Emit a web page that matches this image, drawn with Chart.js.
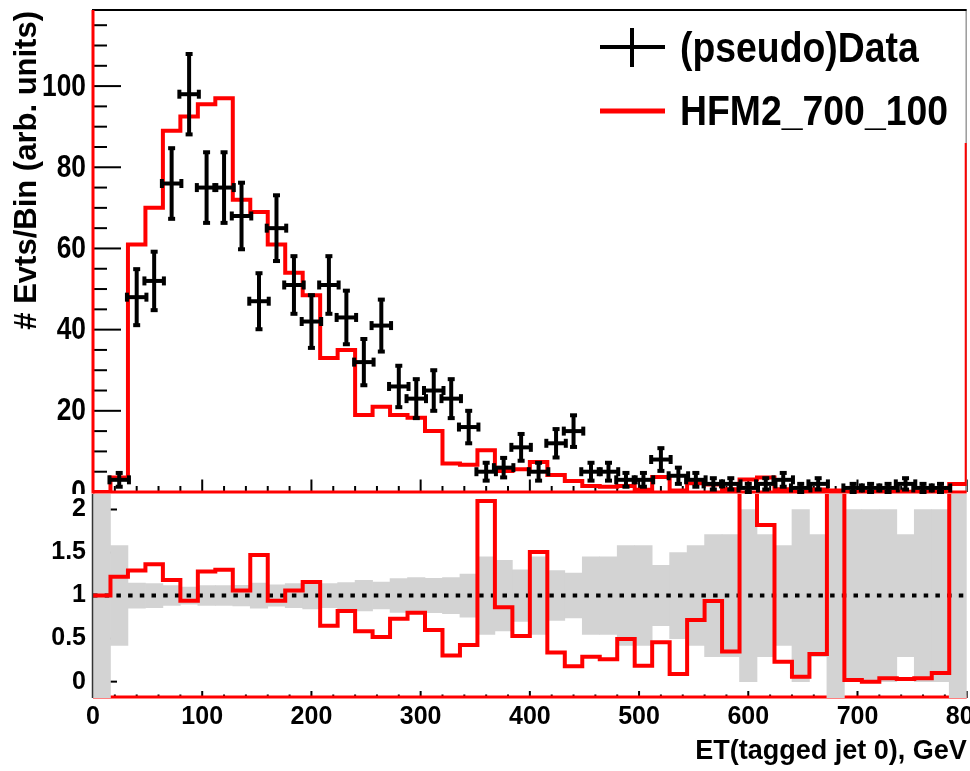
<!DOCTYPE html>
<html>
<head>
<meta charset="utf-8">
<script src="https://cdn.jsdelivr.net/npm/chart.js@4.4.1/dist/chart.umd.min.js"></script>
<style>
  html, body { margin: 0; padding: 0; background: #fff; }
  #wrap { position: relative; width: 970px; height: 771px; overflow: hidden; background: #fff; }
  #mainCanvas { position: absolute; left: 0; top: 0; }
  #ratioCanvas { position: absolute; left: 0; top: 494px; background: #fff; }
</style>
</head>
<body>
<div id="wrap">
  <canvas id="mainCanvas" width="970" height="496"></canvas>
  <canvas id="ratioCanvas" width="970" height="277"></canvas>
</div>
<script>
// ---- binning: 50 bins of 16 GeV between 0 and 800 GeV (bin centres) ----
const binWidth = 16;
const binCenters = [
  8, 24, 40, 56, 72, 88, 104, 120, 136, 152,
  168, 184, 200, 216, 232, 248, 264, 280, 296, 312,
  328, 344, 360, 376, 392, 408, 424, 440, 456, 472,
  488, 504, 520, 536, 552, 568, 584, 600, 616, 632,
  648, 664, 680, 696, 712, 728, 744, 760, 776, 792
];

// ---- (pseudo)data: events per bin and their errors ----
const pseudoData = [
  0, 3, 48, 52, 76, 98, 75, 75, 68, 47,
  65, 51, 42, 51, 43, 32, 41, 26, 23, 25,
  23, 16, 5, 6, 11, 5, 12, 15, 5, 5,
  3, 3, 8, 4, 3, 2, 2, 1, 2, 3,
  1, 2, 0, 1, 1, 1, 2, 1, 1, 0
];
const dataErr = [
  null, 1.7, 6.9, 7.2, 8.7, 9.9, 8.7, 8.7, 8.2, 6.9,
  8.1, 7.1, 6.5, 7.1, 6.6, 5.7, 6.4, 5.1, 4.8, 5.0,
  4.8, 4.0, 2.2, 2.4, 3.3, 2.2, 3.5, 3.9, 2.2, 2.2,
  1.7, 1.7, 2.8, 2.0, 1.7, 1.4, 1.4, 1.0, 1.4, 1.7,
  1.0, 1.4, null, 1.0, 1.0, 1.0, 1.4, 1.0, 1.0, null
];

// ---- signal model HFM2_700_100 (arb. units per bin) ----
const mcPred = [
  0, 3.6, 61, 70, 89, 92.5, 95.5, 97, 72, 69,
  61, 54, 48.5, 33, 35, 19, 21, 19, 18.3, 15,
  7, 6.7, 10.3, 5.2, 5.6, 7.4, 4.2, 2.7, 1.45, 1.3,
  1.5, 0.56, 3.7, 0.36, 2.15, 1.87, 0.7, 3.1, 3.6, 0.7,
  0.06, 0.64, 0.4, 0.02, 0, 0.04, 0.06, 0.04, 0.1, 2.0
];
const mcOverflow = 86;

// ---- ratio panel: model / data, and relative data uncertainty ----
// bins without data sit above the axis range (3.0)
const ratio = [
  1.0, 1.22, 1.29, 1.365, 1.18, 0.94, 1.28, 1.30, 1.06, 1.47,
  0.94, 1.06, 1.157, 0.65, 0.82, 0.585, 0.52, 0.73, 0.80, 0.60,
  0.305, 0.425, 2.10, 0.865, 0.53, 1.505, 0.34, 0.18, 0.29, 0.26,
  0.495, 0.186, 0.457, 0.09, 0.716, 0.936, 0.35, 3.1, 1.82, 0.23,
  0.058, 0.32, 3.0, 0.02, 0.0, 0.04, 0.03, 0.04, 0.10, 3.0
];
// half-width of the grey band around 1 (null: no data, band spans the panel)
const ratioBand = [
  null, 0.58, 0.145, 0.14, 0.115, 0.10, 0.115, 0.115, 0.12, 0.146,
  0.124, 0.14, 0.154, 0.14, 0.152, 0.177, 0.156, 0.196, 0.21, 0.20,
  0.21, 0.25, 0.45, 0.41, 0.30, 0.45, 0.29, 0.26, 0.45, 0.45,
  0.58, 0.58, 0.35, 0.5, 0.58, 0.71, 0.71, 1.0, 0.71, 0.58,
  1.0, 0.71, null, 1.0, 1.0, 1.0, 0.71, 1.0, 1.0, null
];
const ratioRef = 1;

// ---- axis ticks ----
const xTicks = [0, 100, 200, 300, 400, 500, 600, 700, 800];
const topYTicks = [0, 20, 40, 60, 80, 100];
const ratioTicks = [0, 0.5, 1, 1.5, 2];
const xRange = [0, 800];
const topYRange = [0, 118.5];
const ratioRange = [-0.19, 2.18];

const FONT = "'Liberation Sans', Arial, Helvetica, sans-serif";
const RED = '#ff0000';
const TOP_TEXT_SQUEEZE = 0.85;   // upper pad text is drawn horizontally condensed

// ---- derived chart data ----
const half = binWidth / 2;
const dataPoints = binCenters.map((x, i) => ({
  x: x, y: pseudoData[i] > 0 ? pseudoData[i] : null, err: dataErr[i]
}));
// step outline: one point per lower bin edge, then the upper edge and the overflow
const mcSteps = binCenters.map((x, i) => ({ x: x - half, y: mcPred[i] }));
mcSteps.push({ x: xRange[1], y: mcPred[mcPred.length - 1] });
mcSteps.push({ x: xRange[1], y: mcOverflow });

const ratioSteps = binCenters.map((x, i) => ({ x: x - half, y: ratio[i] }));
ratioSteps.push({ x: xRange[1], y: ratio[ratio.length - 1] });

const bandBars = binCenters.map((x, i) => ({
  x: x,
  y: ratioBand[i] === null ? [ratioRange[0], ratioRange[1]]
                           : [ratioRef - ratioBand[i], ratioRef + ratioBand[i]]
}));
const unityLine = [{ x: xRange[0], y: ratioRef }, { x: xRange[1], y: ratioRef }];

// ---- helpers ----
function seg(ctx, x1, y1, x2, y2) {
  ctx.beginPath(); ctx.moveTo(x1, y1); ctx.lineTo(x2, y2); ctx.stroke();
}
function fixedWidth(w) {
  return s => { s.width = w; s.paddingTop = 0; s.paddingBottom = 0; };
}
function fixedHeight(h) {
  return s => { s.height = h; s.paddingLeft = 0; s.paddingRight = 0; };
}
function useTicks(values) {
  return s => { s.ticks = values.map(v => ({ value: v })); };
}

// inward tick marks in the ROOT style
function tickMarksPlugin(spec) {
  return {
    id: 'tickMarks',
    beforeDatasetsDraw(chart) {
      const { ctx, chartArea: a, scales: { x, y } } = chart;
      ctx.save();
      ctx.strokeStyle = '#000';
      ctx.lineWidth = 2;
      for (let v = xRange[0]; v <= xRange[1]; v += spec.xMinorStep) {
        const px = x.getPixelForValue(v);
        const len = (v % 100 === 0) ? spec.xMajor : spec.xMinor;
        seg(ctx, px, a.bottom, px, a.bottom - len);
      }
      if (spec.yMinorStep) {
        for (let v = 0; v <= spec.yMax; v += spec.yMinorStep) {
          const py = y.getPixelForValue(v);
          const len = spec.yTicks.includes(v) ? spec.yMajor : spec.yMinor;
          seg(ctx, a.left, py, a.left + len, py);
        }
      } else {
        spec.yTicks.forEach(v => {
          const py = y.getPixelForValue(v);
          seg(ctx, a.left, py, a.left + spec.yMajor, py);
        });
      }
      ctx.restore();
    }
  };
}

// condensed tick labels of the upper pad, placed from the y scale
const condensedYLabels = {
  id: 'condensedYLabels',
  afterDraw(chart) {
    const { ctx, scales: { y }, chartArea: a } = chart;
    ctx.save();
    ctx.fillStyle = '#000';
    ctx.font = 'bold 31px ' + FONT;
    ctx.textAlign = 'right';
    ctx.textBaseline = 'middle';
    y.ticks.forEach(t => {
      ctx.save();
      ctx.translate(a.left - 7, y.getPixelForValue(t.value) + 1);
      ctx.scale(TOP_TEXT_SQUEEZE, 1);
      ctx.fillText(String(t.value), 0, 0);
      ctx.restore();
    });
    ctx.restore();
  }
};

const mainFrame = {
  id: 'mainFrame',
  beforeDatasetsDraw(chart) {
    const { ctx, chartArea: a } = chart;
    ctx.save();
    ctx.strokeStyle = '#000'; ctx.lineWidth = 2;
    seg(ctx, a.left - 1, a.top - 1, a.right, a.top - 1);
    ctx.strokeStyle = '#9a9a9a'; ctx.lineWidth = 1.5;
    seg(ctx, a.right - 0.5, a.top, a.right - 0.5, a.bottom);
    ctx.strokeStyle = RED; ctx.lineWidth = 3;
    seg(ctx, a.left, a.top - 1, a.left, a.bottom + 1.5);
    seg(ctx, a.left, a.bottom, a.right, a.bottom);
    ctx.restore();
  }
};

const ratioFrameBottom = {
  id: 'ratioFrameBottom',
  beforeDatasetsDraw(chart) {
    const { ctx, chartArea: a } = chart;
    ctx.save();
    ctx.strokeStyle = RED; ctx.lineWidth = 3;
    seg(ctx, a.left, a.bottom - 1, a.right, a.bottom - 1);
    ctx.restore();
  },
  afterDatasetsDraw(chart) {
    const { ctx, chartArea: a } = chart;
    ctx.save();
    ctx.strokeStyle = '#333'; ctx.lineWidth = 1.5;
    seg(ctx, a.left - 0.5, a.top, a.left - 0.5, a.bottom);
    ctx.restore();
  }
};

// data points with horizontal bin-width bars and vertical error bars
const dataCrosses = {
  id: 'dataCrosses',
  afterDatasetsDraw(chart) {
    const { ctx, scales: { x, y } } = chart;
    const meta = chart.getDatasetMeta(0);
    const raw = chart.data.datasets[0].data;
    ctx.save();
    ctx.strokeStyle = '#000';
    ctx.lineWidth = 4;
    ctx.lineCap = 'butt';
    meta.data.forEach((pt, i) => {
      const d = raw[i];
      if (d.y === null || pt.skip) return;
      const xl = x.getPixelForValue(d.x - half) - 1;
      const xr = x.getPixelForValue(d.x + half) + 1;
      const yt = y.getPixelForValue(d.y + d.err);
      const yb = y.getPixelForValue(d.y - d.err);
      seg(ctx, xl, pt.y, xr, pt.y);
      seg(ctx, pt.x, yt, pt.x, yb);
      seg(ctx, xl, pt.y - 4.5, xl, pt.y + 4.5);
      seg(ctx, xr, pt.y - 4.5, xr, pt.y + 4.5);
      seg(ctx, pt.x - 3.5, yt, pt.x + 3.5, yt);
      seg(ctx, pt.x - 3.5, yb, pt.x + 3.5, yb);
    });
    ctx.restore();
  }
};

const legendBox = {
  id: 'legendBox',
  afterDraw(chart) {
    const ctx = chart.ctx;
    const sets = chart.data.datasets;
    ctx.save();
    ctx.strokeStyle = '#000'; ctx.lineWidth = 4;
    seg(ctx, 600, 47, 665, 47);
    seg(ctx, 632, 28, 632, 67);
    ctx.strokeStyle = sets[1].borderColor; ctx.lineWidth = 5;
    seg(ctx, 600, 111, 665, 111);
    ctx.fillStyle = '#000';
    ctx.font = 'bold 42px ' + FONT;
    ctx.textBaseline = 'alphabetic';
    ctx.textAlign = 'left';
    [[sets[0].label, 62], [sets[1].label, 125]].forEach(([txt, base]) => {
      ctx.save();
      ctx.translate(680, base);
      ctx.scale(0.89, 1);
      ctx.fillText(txt, 0, 0);
      ctx.restore();
    });
    ctx.restore();
  }
};

// ---- upper panel ----
new Chart(document.getElementById('mainCanvas'), {
  type: 'line',
  data: {
    datasets: [
      {
        label: '(pseudo)Data', type: 'scatter', data: dataPoints,
        pointRadius: 0, showLine: false, order: 0
      },
      {
        label: 'HFM2_700_100', data: mcSteps, stepped: true,
        borderColor: RED, borderWidth: 4, pointRadius: 0, fill: false,
        clip: 0, order: 1
      }
    ]
  },
  options: {
    responsive: false, animation: false, devicePixelRatio: 1,
    layout: { padding: { top: 11, right: 3.3, bottom: 4, left: 0 } },
    plugins: { legend: { display: false }, tooltip: { enabled: false } },
    scales: {
      x: {
        type: 'linear', min: xRange[0], max: xRange[1], display: false, offset: false,
        afterFit: fixedHeight(0)
      },
      y: {
        type: 'linear', min: topYRange[0], max: topYRange[1],
        afterBuildTicks: useTicks(topYTicks),
        afterFit: fixedWidth(93),
        grid: { display: false, drawTicks: false },
        border: { display: false },
        ticks: { display: false },
        title: {
          display: true, text: '# Evts/Bin (arb. units)', align: 'end', color: '#000',
          font: { family: FONT, size: 31, weight: 'bold', lineHeight: 1 },
          padding: { top: 12, bottom: 0 }
        }
      }
    }
  },
  plugins: [
    tickMarksPlugin({ xMinorStep: 20, xMajor: 12.5, xMinor: 6, yTicks: topYTicks,
                      yMinorStep: 5, yMax: topYRange[1], yMajor: 28, yMinor: 14 }),
    mainFrame, dataCrosses, condensedYLabels, legendBox
  ]
});

// ---- ratio panel ----
new Chart(document.getElementById('ratioCanvas'), {
  type: 'line',
  data: {
    datasets: [
      {
        label: 'ratio', data: ratioSteps, stepped: true,
        borderColor: RED, borderWidth: 4, pointRadius: 0, fill: false,
        clip: 0, order: 0
      },
      {
        label: 'unity', data: unityLine, borderColor: '#000', borderWidth: 4,
        borderDash: [4.5, 7.2], pointRadius: 0, fill: false, order: 1
      },
      {
        type: 'bar', label: 'data uncertainty', data: bandBars,
        backgroundColor: '#d3d3d3', borderWidth: 0,
        barPercentage: 1, categoryPercentage: 1, clip: 0, order: 2
      }
    ]
  },
  options: {
    responsive: false, animation: false, devicePixelRatio: 1,
    layout: { padding: { top: 0, right: 3.3, bottom: 0, left: 0 } },
    plugins: { legend: { display: false }, tooltip: { enabled: false } },
    scales: {
      x: {
        type: 'linear', min: xRange[0], max: xRange[1], offset: false,
        afterBuildTicks: useTicks(xTicks),
        afterFit: fixedHeight(73),
        grid: { display: false, drawTicks: false },
        border: { display: false },
        ticks: { font: { family: FONT, size: 25, weight: 'bold' }, color: '#000',
                 padding: 4, maxRotation: 0, autoSkip: false,
                 callback: v => String(v) },
        title: {
          display: true, text: 'ET(tagged jet 0), GeV', align: 'end', color: '#000',
          font: { family: FONT, size: 27, weight: 'bold', lineHeight: 1 },
          padding: { top: 0, bottom: 6 }
        }
      },
      y: {
        type: 'linear', min: ratioRange[0], max: ratioRange[1],
        afterBuildTicks: useTicks(ratioTicks),
        afterFit: fixedWidth(93),
        grid: { display: false, drawTicks: false },
        border: { display: false },
        ticks: { font: { family: FONT, size: 25, weight: 'bold' }, color: '#000', padding: 7,
                 callback: v => String(v) }
      }
    }
  },
  plugins: [
    tickMarksPlugin({ xMinorStep: 20, xMajor: 7, xMinor: 3.5, yTicks: ratioTicks, yMajor: 24 }),
    ratioFrameBottom
  ]
});
</script>
</body>
</html>
